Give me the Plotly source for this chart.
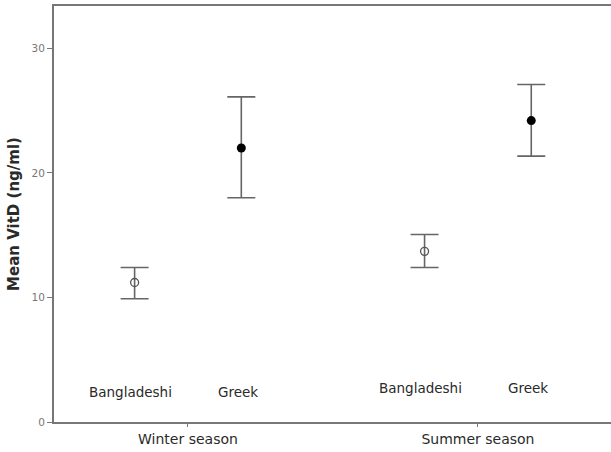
import plotly.graph_objects as go

seasons = ["Winter season", "Summer season"]
groups = ["Bangladeshi", "Greek"]
# mean, lower CI, upper CI per season for each group
bang_mean = [11.2, 13.7]
bang_low = [9.9, 12.4]
bang_high = [12.4, 15.05]
greek_mean = [22.0, 24.2]
greek_low = [18.0, 21.35]
greek_high = [26.1, 27.1]
y_ticks = [0, 10, 20, 30]

season_pos = [1, 2]
offset = 0.184

fig = go.Figure()

def add_group(means, lows, highs, sign, marker):
    xs = [p + sign * offset for p in season_pos]
    fig.add_trace(go.Scatter(
        x=xs, y=means, mode="markers",
        marker=marker,
        error_y=dict(type="data", symmetric=False,
                     array=[h - m for h, m in zip(highs, means)],
                     arrayminus=[m - l for m, l in zip(means, lows)],
                     color="#666", thickness=1.6, width=14),
        showlegend=False, hoverinfo="skip"))

add_group(bang_mean, bang_low, bang_high, -1,
          dict(symbol="circle-open", size=8, color="#555", line=dict(width=1.3, color="#555")))
add_group(greek_mean, greek_low, greek_high, 1,
          dict(symbol="circle", size=9, color="black"))

label_y = [2.42, 2.7]
for i, p in enumerate(season_pos):
    for g, sign, dx in [(groups[0], -1, -4), (groups[1], 1, -3)]:
        fig.add_annotation(x=p + sign * offset, y=label_y[i], text=g, showarrow=False,
                           xshift=dx, font=dict(family="DejaVu Sans", size=13.5, color="#2a2a2a"))

fig.update_layout(
    width=611, height=452,
    margin=dict(l=54, r=0, t=6, b=30),
    plot_bgcolor="white", paper_bgcolor="white",
    xaxis=dict(range=[0.538, 2.459], tickvals=season_pos, ticktext=seasons,
               showline=True, linecolor="#777", linewidth=2, mirror=True,
               ticks="outside", ticklen=3, tickcolor="#777", showgrid=False, zeroline=False,
               tickfont=dict(family="DejaVu Sans", size=14, color="#2a2a2a")),
    yaxis=dict(range=[0, 33.4], tickvals=y_ticks, mirror=False,
               showline=True, linecolor="#777", linewidth=2,
               ticks="outside", ticklen=5, tickcolor="#777", showgrid=False, zeroline=False,
               tickfont=dict(family="DejaVu Sans", size=10.5, color="#777"),
               title=dict(text="<b>Mean VitD (ng/ml)</b>", standoff=8,
                          font=dict(family="DejaVu Sans", size=15, color="#2a2a2a"))),
)

fig.write_html("out.html", config={"displayModeBar": False},
               post_script="document.body.style.margin='0';document.body.style.overflow='hidden';")
